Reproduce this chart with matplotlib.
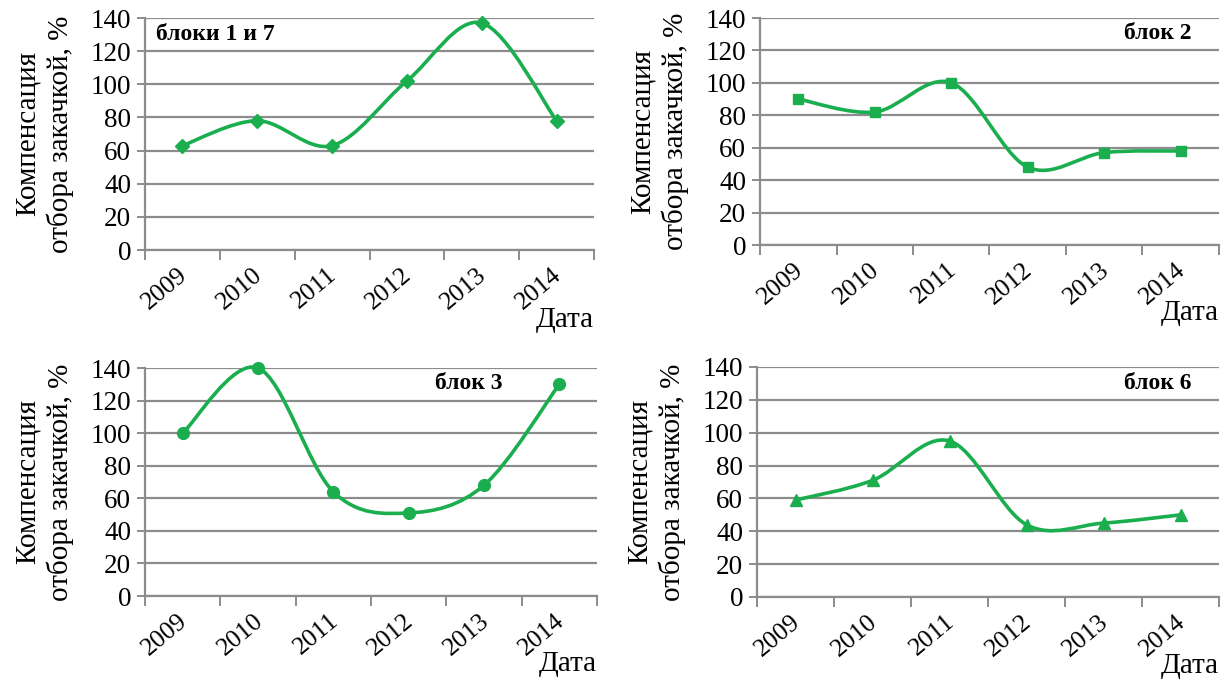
import numpy as np
import matplotlib
matplotlib.use('Agg')
import matplotlib.pyplot as plt
from matplotlib.path import Path
from matplotlib.patches import PathPatch

plt.rcParams['font.family'] = 'serif'
plt.rcParams['font.serif'] = ['Liberation Serif', 'DejaVu Serif']

# data
years = ['2009', '2010', '2011', '2012', '2013', '2014']
block_1_7 = [63, 78, 63, 102, 137, 78]
block_2 = [90, 82, 100, 48, 57, 58]
block_3 = [100, 140, 64, 51, 68, 130]
block_6 = [59, 71, 95, 44, 45, 50]

GREEN = '#1aae4f'
GRID = '#8c8c8c'
W, H = 1229, 680


def px_axes(fig, left, right, top, bottom):
    # axes position given in pixels of the final picture
    return fig.add_axes([left / W, 1 - bottom / H, (right - left) / W, (bottom - top) / H])


def smooth_path(x, y):
    # Excel-like smoothed line: Catmull-Rom turned into cubic Bezier pieces
    p = np.column_stack([x, y]).astype(float)
    n = len(p)
    verts = [p[0]]
    codes = [Path.MOVETO]
    for i in range(n - 1):
        p0 = p[i - 1] if i > 0 else p[i]
        p3 = p[i + 2] if i + 2 < n else p[i + 1]
        c1 = p[i] + (p[i + 1] - p0) / 6.0
        c2 = p[i + 1] - (p3 - p[i]) / 6.0
        verts += [c1, c2, p[i + 1]]
        codes += [Path.CURVE4] * 3
    return Path(verts, codes)


def panel(ax, values, marker, msize, label, lx, ly, lha):
    x = np.arange(len(values)) + 0.5
    ax.add_patch(PathPatch(smooth_path(x, values), facecolor='none',
                           edgecolor=GREEN, lw=2.6, zorder=3, clip_on=False))
    ax.plot(x, values, linestyle='none', marker=marker, ms=msize,
            color=GREEN, zorder=4, clip_on=False)
    ax.set_xlim(0, len(values))
    ax.set_ylim(0, 140)
    ax.set_yticks(range(0, 141, 20))
    ax.yaxis.grid(True, color=GRID, lw=1.6)
    ax.set_axisbelow(True)
    ax.set_xticks(range(len(values) + 1))
    ax.set_xticklabels([])
    ax.tick_params(axis='x', length=7, width=1.4, color=GRID)
    ax.tick_params(axis='y', length=6, width=1.4, color=GRID, labelsize=19.5, pad=4)
    for s in ['top', 'right']:
        ax.spines[s].set_visible(False)
    for s in ['left', 'bottom']:
        ax.spines[s].set_color(GRID)
        ax.spines[s].set_linewidth(1.6)
    for xi, yr in zip(x, years):
        ax.annotate(yr, xy=(xi, 0), xycoords=('data', 'axes fraction'),
                    xytext=(2, -22), textcoords='offset pixels',
                    rotation=40, rotation_mode='anchor', ha='right', va='center',
                    fontsize=18.5)
    ax.text(1.0, -0.3, 'Дата', transform=ax.transAxes, ha='right', va='center',
            fontsize=21)
    ax.set_ylabel('Компенсация\nотбора закачкой, %', fontsize=21, linespacing=1.25,
                  labelpad=12)
    ax.text(lx, ly, label, transform=ax.transAxes, ha=lha, va='center',
            fontsize=17, fontweight='bold')


fig = plt.figure(figsize=(W / 100, H / 100), dpi=100)

ax1 = px_axes(fig, 145, 594, 18, 250)
panel(ax1, block_1_7, 'D', 7, 'блоки 1 и 7', 0.025, 0.93, 'left')

ax2 = px_axes(fig, 760, 1219, 18, 245)
panel(ax2, block_2, 's', 7.5, 'блок 2', 0.94, 0.93, 'right')

ax3 = px_axes(fig, 145, 597, 368, 596)
panel(ax3, block_3, 'o', 8.5, 'блок 3', 0.79, 0.93, 'right')

ax4 = px_axes(fig, 757, 1219, 367, 597)
panel(ax4, block_6, '^', 9, 'блок 6', 0.94, 0.93, 'right')

fig.savefig('out.png', dpi=100)
